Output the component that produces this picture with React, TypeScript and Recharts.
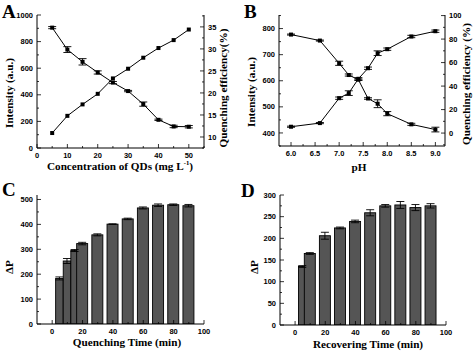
import React from 'react';
import { ComposedChart, Line, Bar, XAxis, YAxis, ErrorBar, ReferenceArea } from 'recharts';

// panel A: QD concentration
const qdConc = [5, 10, 15, 20, 25, 30, 35, 40, 45, 50];
const qdIntensity = [905, 740, 648, 568, 492, 428, 330, 212, 162, 160];
const qdIntensityErr = [8, 22, 24, 12, 8, 5, 16, 5, 9, 9];
const qdEfficiency = [10.9, 14.8, 17.4, 19.8, 23.3, 25.5, 28.0, 30.2, 32.0, 34.4];

// panel B: pH
const phValues = [6.0, 6.6, 7.0, 7.2, 7.4, 7.6, 7.8, 8.0, 8.5, 9.0];
const phIntensity = [777, 754, 667, 622, 604, 532, 512, 474, 433, 413];
const phIntensityErr = [2, 2, 8, 4, 3, 3, 15, 8, 4, 9];
const phEfficiency = [5.4, 8.5, 29.7, 34.0, 46.2, 55.2, 68.0, 71.4, 82.2, 86.7];
const phEfficiencyErr = [0.5, 0.5, 1, 2, 1, 1, 2, 1, 1, 1];

// panel C: quenching time
const quenchTime = [5, 10, 15, 20, 30, 40, 50, 60, 70, 80, 90];
const quenchDP = [183, 253, 295, 323, 358, 401, 422, 466, 477, 479, 475];
const quenchErr = [6, 10, 4, 5, 4, 1, 3, 4, 5, 3, 5];

// panel D: recovering time
const recoverTime = [5, 10, 20, 30, 40, 50, 60, 70, 80, 90];
const recoverDP = [135, 165, 206, 224, 239, 259, 275, 277, 271, 275];
const recoverErr = [2, 2, 8, 2, 3, 7, 3, 8, 7, 5];

// ticks (all ticks drawn, labels only on the major list)
const aXTicks = [0, 5, 10, 15, 20, 25, 30, 35, 40, 45, 50, 55];
const aXLabels = [0, 10, 20, 30, 40, 50];
const aLeftTicks = [0, 100, 200, 300, 400, 500, 600, 700, 800, 900, 1000];
const aLeftLabels = [0, 200, 400, 600, 800, 1000];
const aRightTicks = [7.5, 10, 12.5, 15, 17.5, 20, 22.5, 25, 27.5, 30, 32.5, 35, 37.5];
const aRightLabels = [10, 15, 20, 25, 30, 35];

const bXTicks = [6.0, 6.25, 6.5, 6.75, 7.0, 7.25, 7.5, 7.75, 8.0, 8.25, 8.5, 8.75, 9.0];
const bXLabels = [6.0, 6.5, 7.0, 7.5, 8.0, 8.5, 9.0];
const bLeftTicks = [350, 400, 450, 500, 550, 600, 650, 700, 750, 800, 850];
const bLeftLabels = [400, 500, 600, 700, 800];
const bRightTicks = [-10, 0, 10, 20, 30, 40, 50, 60, 70, 80, 90, 100];
const bRightLabels = [0, 20, 40, 60, 80, 100];

const timeTicks = [0, 10, 20, 30, 40, 50, 60, 70, 80, 90, 100];
const timeLabels = [0, 20, 40, 60, 80, 100];
const cYTicks = [0, 50, 100, 150, 200, 250, 300, 350, 400, 450, 500];
const cYLabels = [0, 100, 200, 300, 400, 500];
const dYTicks = [0, 25, 50, 75, 100, 125, 150, 175, 200, 225, 250, 275, 300];
const dYLabels = [0, 50, 100, 150, 200, 250, 300];

const SANS = '"Liberation Sans", Arial, sans-serif';
const SERIF = '"Liberation Serif", "Times New Roman", serif';
const M = 4;

const makeTick = (side: 'left' | 'right' | 'bottom', labels: number[], fmt: (v: number) => string = String) =>
  (props: any) => {
    const { x, y, payload } = props;
    const v = payload.value;
    const major = labels.some((l) => Math.abs(l - v) < 1e-9);
    const len = major ? 4 : 2;
    const txt = { fontFamily: SANS, fontWeight: 700, fontSize: 7.5, fill: '#000' } as const;
    if (side === 'left') {
      const ax = x + M;
      return (
        <g>
          <line x1={ax} x2={ax + len} y1={y} y2={y} stroke="#000" strokeWidth={0.8} />
          {major && <text x={x} y={y} dy="0.35em" textAnchor="end" {...txt}>{fmt(v)}</text>}
        </g>
      );
    }
    if (side === 'right') {
      const ax = x - M;
      return (
        <g>
          <line x1={ax} x2={ax - len} y1={y} y2={y} stroke="#000" strokeWidth={0.8} />
          {major && <text x={x} y={y} dy="0.35em" textAnchor="start" {...txt}>{fmt(v)}</text>}
        </g>
      );
    }
    const ay = y - M;
    return (
      <g>
        <line x1={x} x2={x} y1={ay} y2={ay - len} stroke="#000" strokeWidth={0.8} />
        {major && <text x={x} y={y} dy="0.75em" textAnchor="middle" {...txt}>{fmt(v)}</text>}
      </g>
    );
  };

const SquareDot = (props: any) => {
  const { cx, cy } = props;
  if (cx == null || cy == null) return <g />;
  return <rect x={cx - 2} y={cy - 2} width={4} height={4} fill="#000" />;
};

const makeBarShape = (narrowBelow: number) => (props: any) => {
  const { x, y, width, height, payload } = props;
  const w = payload.time < narrowBelow ? 7.5 : 11;
  const cx = x + width / 2;
  return <rect x={cx - w / 2} y={y} width={w} height={height} fill="#555555" stroke="#000" strokeWidth={0.9} />;
};

const axisLine = { stroke: '#000', strokeWidth: 1 };

const Title = ({ x, y, text, rotate, size = 11.2 }: { x: number; y: number; text: React.ReactNode; rotate?: boolean; size?: number }) => (
  <div
    style={{
      position: 'absolute',
      left: x,
      top: y,
      transform: `translate(-50%, -50%)${rotate ? ' rotate(-90deg)' : ''}`,
      whiteSpace: 'nowrap',
      fontFamily: SERIF,
      fontWeight: 700,
      fontSize: size,
      lineHeight: 1,
      color: '#000',
    }}
  >
    {text}
  </div>
);

const Letter = ({ x, y, text }: { x: number; y: number; text: string }) => (
  <div style={{ position: 'absolute', left: x, top: y, fontFamily: SERIF, fontWeight: 700, fontSize: 19, lineHeight: 1 }}>
    {text}
  </div>
);

export default function App() {
  const dataA = qdConc.map((c, i) => ({ x: c, intensity: qdIntensity[i], intErr: qdIntensityErr[i], eff: qdEfficiency[i] }));
  const dataB = phValues.map((p, i) => ({
    x: p,
    intensity: phIntensity[i],
    intErr: phIntensityErr[i],
    eff: phEfficiency[i],
    effErr: phEfficiencyErr[i],
  }));
  const dataC = quenchTime.map((t, i) => ({ time: t, dp: quenchDP[i], err: quenchErr[i] }));
  const dataD = recoverTime.map((t, i) => ({ time: t, dp: recoverDP[i], err: recoverErr[i] }));

  return (
    <div style={{ position: 'absolute', left: 0, top: 0, width: 474, height: 353, background: '#fff', overflow: 'hidden' }}>
      {/* A */}
      <div style={{ position: 'absolute', left: 0, top: 0 }}>
        <ComposedChart width={237} height={180} data={dataA} margin={{ top: 15, right: 0, bottom: 0, left: 0 }}>
          <XAxis dataKey="x" type="number" domain={[0, 55]} ticks={aXTicks} interval={0} allowDataOverflow
            height={32} tickSize={0} tickMargin={M} tickLine={false} axisLine={axisLine} tick={makeTick('bottom', aXLabels)} />
          <YAxis yAxisId="left" type="number" domain={[0, 1000]} ticks={aLeftTicks} interval={0} allowDataOverflow
            width={37} tickSize={0} tickMargin={M} tickLine={false} axisLine={axisLine} tick={makeTick('left', aLeftLabels)} />
          <YAxis yAxisId="right" orientation="right" type="number" domain={[7.5, 37.7]} ticks={aRightTicks} interval={0} allowDataOverflow
            width={33} tickSize={0} tickMargin={M} tickLine={false} axisLine={axisLine} tick={makeTick('right', aRightLabels)} />
          <ReferenceArea yAxisId="left" fill="none" stroke="#000" strokeWidth={1} ifOverflow="visible" />
          <Line yAxisId="left" dataKey="intensity" stroke="#000" strokeWidth={1} dot={<SquareDot />} isAnimationActive={false}>
            <ErrorBar dataKey="intErr" direction="y" width={4} stroke="#000" strokeWidth={0.9} />
          </Line>
          <Line yAxisId="right" dataKey="eff" stroke="#000" strokeWidth={1} dot={<SquareDot />} isAnimationActive={false} />
        </ComposedChart>
      </div>

      {/* B */}
      <div style={{ position: 'absolute', left: 237, top: 0 }}>
        <ComposedChart width={237} height={180} data={dataB} margin={{ top: 15, right: 0, bottom: 0, left: 0 }}>
          <XAxis dataKey="x" type="number" domain={[5.75, 9.2]} ticks={bXTicks} interval={0} allowDataOverflow
            height={34} tickSize={0} tickMargin={M} tickLine={false} axisLine={axisLine}
            tick={makeTick('bottom', bXLabels, (v) => v.toFixed(1))} />
          <YAxis yAxisId="left" type="number" domain={[350, 852]} ticks={bLeftTicks} interval={0} allowDataOverflow
            width={42} tickSize={0} tickMargin={M} tickLine={false} axisLine={axisLine} tick={makeTick('left', bLeftLabels)} />
          <YAxis yAxisId="right" orientation="right" type="number" domain={[-11, 100.5]} ticks={bRightTicks} interval={0} allowDataOverflow
            width={29} tickSize={0} tickMargin={M} tickLine={false} axisLine={axisLine} tick={makeTick('right', bRightLabels)} />
          <ReferenceArea yAxisId="left" fill="none" stroke="#000" strokeWidth={1} ifOverflow="visible" />
          <Line yAxisId="left" dataKey="intensity" stroke="#000" strokeWidth={1} dot={<SquareDot />} isAnimationActive={false}>
            <ErrorBar dataKey="intErr" direction="y" width={4} stroke="#000" strokeWidth={0.9} />
          </Line>
          <Line yAxisId="right" dataKey="eff" stroke="#000" strokeWidth={1} dot={<SquareDot />} isAnimationActive={false}>
            <ErrorBar dataKey="effErr" direction="y" width={4} stroke="#000" strokeWidth={0.9} />
          </Line>
        </ComposedChart>
      </div>

      {/* C */}
      <div style={{ position: 'absolute', left: 0, top: 180 }}>
        <ComposedChart width={237} height={173} data={dataC} margin={{ top: 15, right: 33, bottom: 0, left: 0 }}>
          <XAxis dataKey="time" type="number" domain={[-10, 100]} ticks={timeTicks} interval={0} allowDataOverflow
            height={29} tickSize={0} tickMargin={M} tickLine={false} axisLine={axisLine} tick={makeTick('bottom', timeLabels)} />
          <YAxis type="number" domain={[0, 518]} ticks={cYTicks} interval={0} allowDataOverflow
            width={37} tickSize={0} tickMargin={M} tickLine={false} axisLine={axisLine} tick={makeTick('left', cYLabels)} />
          <Bar dataKey="dp" barSize={11} shape={makeBarShape(20)} isAnimationActive={false}>
            <ErrorBar dataKey="err" direction="y" width={4} stroke="#000" strokeWidth={0.9} />
          </Bar>
          <ReferenceArea fill="none" stroke="#000" strokeWidth={1} ifOverflow="visible" />
        </ComposedChart>
      </div>

      {/* D */}
      <div style={{ position: 'absolute', left: 237, top: 180 }}>
        <ComposedChart width={237} height={173} data={dataD} margin={{ top: 15, right: 28, bottom: 0, left: 0 }}>
          <XAxis dataKey="time" type="number" domain={[-10, 100]} ticks={timeTicks} interval={0} allowDataOverflow
            height={28} tickSize={0} tickMargin={M} tickLine={false} axisLine={axisLine} tick={makeTick('bottom', timeLabels)} />
          <YAxis type="number" domain={[0, 300]} ticks={dYTicks} interval={0} allowDataOverflow
            width={43} tickSize={0} tickMargin={M} tickLine={false} axisLine={axisLine} tick={makeTick('left', dYLabels)} />
          <Bar dataKey="dp" barSize={11} shape={makeBarShape(10)} isAnimationActive={false}>
            <ErrorBar dataKey="err" direction="y" width={4} stroke="#000" strokeWidth={0.9} />
          </Bar>
          <ReferenceArea fill="none" stroke="#000" strokeWidth={1} ifOverflow="visible" />
        </ComposedChart>
      </div>

      <Letter x={2} y={2} text="A" />
      <Letter x={244} y={2} text="B" />
      <Letter x={2} y={180} text="C" />
      <Letter x={241} y={181} text="D" />

      <Title x={120} y={166} text={<span>Concentration of QDs (mg L<sup style={{ fontSize: '0.6em' }}>-1</sup>)</span>} />
      <Title x={10} y={93} text="Intensity (a.u.)" rotate />
      <Title x={224} y={88} text="Quenching efficiency(%)" rotate />

      <Title x={359} y={168} text="pH" />
      <Title x={252} y={92} text="Intensity (a.u.)" rotate />
      <Title x={467} y={84} text="Quenching efficiency (%)" rotate />

      <Title x={10} y={267} text="ΔP" rotate />
      <Title x={127} y={343} text="Quenching Time (min)" />

      <Title x={255} y={267} text="ΔP" rotate />
      <Title x={368} y={345} text="Recovering Time (min)" />
    </div>
  );
}
